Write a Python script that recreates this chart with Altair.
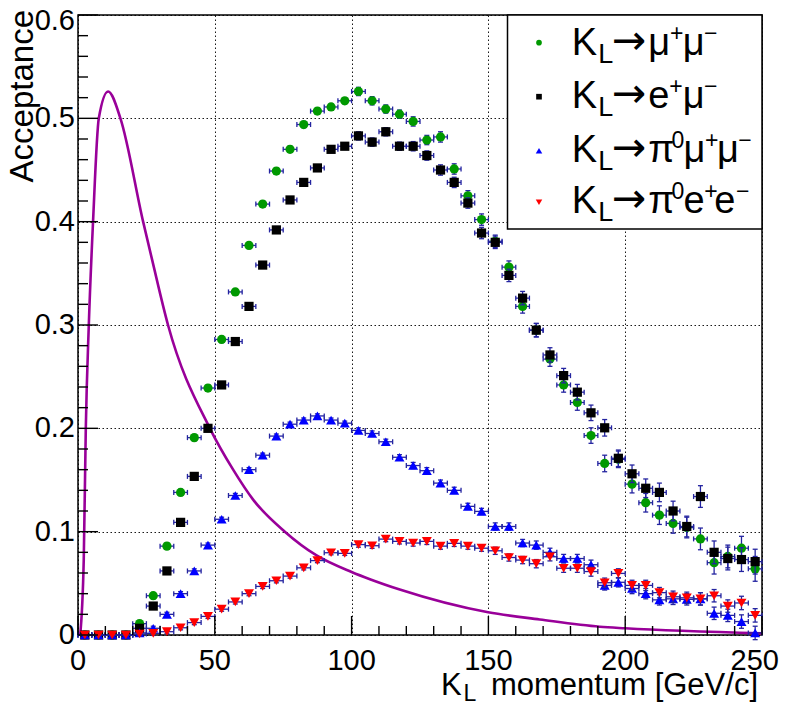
import altair as alt
import pandas as pd

# ---------------- data ----------------
X = [2.5 + 5 * i for i in range(50)]  # bin centres, 5 GeV/c bins
XHALF = 2.5

MUMU = [0, 0, 0, 0, 0.011, 0.038, 0.086, 0.138, 0.191, 0.239,
        0.286, 0.332, 0.377, 0.417, 0.449, 0.470, 0.494, 0.507, 0.511, 0.517,
        0.526, 0.517, 0.509, 0.504, 0.497, 0.479, 0.482, 0.451, 0.425, 0.402,
        0.381, 0.356, 0.318, 0.295, 0.267, 0.242, 0.225, 0.193, 0.166, 0.170,
        0.146, 0.128, 0.116, 0.108, 0.104, 0.093, 0.070, 0.076, 0.084, 0.064]
EMU = [0, 0, 0, 0, 0.0065, 0.028, 0.062, 0.109, 0.1535, 0.200,
       0.242, 0.284, 0.318, 0.358, 0.392, 0.421, 0.438, 0.452, 0.470, 0.473,
       0.483, 0.477, 0.487, 0.473, 0.473, 0.464, 0.450, 0.438, 0.418, 0.389,
       0.380, 0.348, 0.326, 0.295, 0.271, 0.251, 0.235, 0.215, 0.2005, 0.171,
       0.156, 0.142, 0.138, 0.120, 0.105, 0.134, 0.080, 0.074, 0.073, 0.071]
PI0MUMU = [0, 0, 0, 0, 0.002, 0.0065, 0.020, 0.040, 0.062, 0.087,
           0.112, 0.135, 0.160, 0.174, 0.1925, 0.204, 0.208, 0.212, 0.208, 0.205,
           0.198, 0.195, 0.187, 0.172, 0.164, 0.159, 0.147, 0.140, 0.1245, 0.1196,
           0.105, 0.105, 0.089, 0.087, 0.080, 0.074, 0.074, 0.068, 0.048, 0.051,
           0.045, 0.040, 0.034, 0.035, 0.0345, 0.035, 0.021, 0.019, 0.013, 0.002]
PI0EE = [0, 0, 0, 0, 0.001, 0.0016, 0.0032, 0.007, 0.012, 0.018,
         0.025, 0.032, 0.040, 0.047, 0.0525, 0.057, 0.065, 0.072, 0.0796, 0.079,
         0.0875, 0.0864, 0.0928, 0.0906, 0.089, 0.0906, 0.086, 0.0887, 0.086, 0.084,
         0.0815, 0.075, 0.0725, 0.069, 0.0757, 0.0646, 0.0646, 0.0614, 0.0506, 0.0596,
         0.048, 0.048, 0.041, 0.037, 0.036, 0.035, 0.038, 0.028, 0.031, 0.019]

# estimated vertical errors per bin
ERR_LEPT = [0, 0, 0, 0, 0.003, 0.003, 0.003, 0.003, 0.003, 0.003,
            0.003, 0.003, 0.003, 0.003, 0.003, 0.003, 0.003, 0.003, 0.003, 0.003,
            0.004, 0.004, 0.004, 0.004, 0.0045, 0.0045, 0.005, 0.005, 0.005, 0.0055,
            0.006, 0.006, 0.0065, 0.0065, 0.007, 0.007, 0.0075, 0.0075, 0.008, 0.008,
            0.0085, 0.009, 0.009, 0.0095, 0.010, 0.0105, 0.011, 0.011, 0.0115, 0.012]
ERR_PI0 = [0, 0, 0, 0, 0.002, 0.002, 0.002, 0.002, 0.002, 0.002,
           0.002, 0.002, 0.002, 0.002, 0.002, 0.002, 0.002, 0.002, 0.002, 0.002,
           0.0025, 0.0025, 0.0025, 0.0025, 0.003, 0.003, 0.003, 0.003, 0.003, 0.003,
           0.0035, 0.0035, 0.0035, 0.004, 0.004, 0.004, 0.004, 0.0045, 0.0045, 0.0045,
           0.005, 0.005, 0.005, 0.0055, 0.0055, 0.006, 0.006, 0.006, 0.0065, 0.0065]

# K_L momentum spectrum curve
CURVE_P = [0.8, 2.1, 2.85, 3.95, 5.5, 7.6, 11.0, 15.5, 23.8, 27.1, 32.9, 48.2,
           56.7, 64.0, 75.6, 87.2, 100.0, 106.7, 117.6, 149.9, 168.8, 190.7, 200.0, 250.0]
CURVE_V = [0.0, 0.0725, 0.20, 0.30, 0.40, 0.50, 0.526, 0.50, 0.40, 0.363, 0.30, 0.20,
           0.160, 0.131, 0.100, 0.077, 0.061, 0.054, 0.044, 0.022, 0.015, 0.008, 0.0065, 0.0016]

XTICK_MAJOR = [0, 50, 100, 150, 200, 250]
XTICK_LABELS = ["0", "50", "100", "150", "200", "250"]
XTICK_MINOR = [v for v in range(10, 250, 10) if v % 50 != 0]
YTICK_MAJOR = [0, 0.1, 0.2, 0.3, 0.4, 0.5, 0.6]
YTICK_LABELS = ["0", "0.1", "0.2", "0.3", "0.4", "0.5", "0.6"]
YTICK_MINOR = [round(0.02 * i, 2) for i in range(1, 30) if i % 5 != 0]

SERIES = [
    ("K_L->mumu", MUMU, ERR_LEPT, "circle", "#009900", 85),
    ("K_L->emu", EMU, ERR_LEPT, "square", "#000000", 85),
    ("K_L->pi0mumu", PI0MUMU, ERR_PI0, "triangle-up", "#0000ff", 100),
    ("K_L->pi0ee", PI0EE, ERR_PI0, "triangle-down", "#ff0000", 100),
]

# ---------------- layout ----------------
W, H = 684, 620
PADL, PADT, PADR, PADB = 70, 7, 18, 71
OX, OY = 8 + PADL, 8 + PADT          # page position of the plot origin
FONT = "Liberation Sans, Arial, Helvetica, sans-serif"
ERRC = "#2424a0"
LABEL_SIZE = 29

XS = alt.Scale(domain=[0, 250], nice=False, zero=False)
YS = alt.Scale(domain=[0, 0.6], nice=False, zero=False)
XAX = alt.Axis(values=XTICK_MAJOR, title=None, labels=False)
YAX = alt.Axis(values=YTICK_MAJOR, title=None, labels=False)


def xq(f):
    return alt.X(f, type="quantitative", scale=XS, axis=XAX)


def yq(f):
    return alt.Y(f, type="quantitative", scale=YS, axis=YAX)


layers = []

# momentum spectrum curve
curve_df = pd.DataFrame({"p": CURVE_P, "v": CURVE_V})
layers.append(alt.Chart(curve_df).mark_line(color="#990099", strokeWidth=2.6,
                                            interpolate="monotone")
              .encode(x=xq("p"), y=yq("v"), order="p:Q"))

# series: error bars + markers
for name, vals, errs, shape, color, size in SERIES:
    df = pd.DataFrame({"x": X, "y": vals, "e": errs})
    df["xl"] = df["x"] - XHALF
    df["xh"] = df["x"] + XHALF
    df["yl"] = df["y"] - df["e"]
    df["yh"] = df["y"] + df["e"]
    base = alt.Chart(df)
    layers.append(base.mark_rule(color=ERRC, strokeWidth=1.3)
                  .encode(x=xq("xl"), x2="xh", y=yq("y")))
    layers.append(base.mark_tick(orient="vertical", size=5, thickness=1.3, color=ERRC, opacity=1)
                  .encode(x=xq("xl"), y=yq("y")))
    layers.append(base.mark_tick(orient="vertical", size=5, thickness=1.3, color=ERRC, opacity=1)
                  .encode(x=xq("xh"), y=yq("y")))
    ve = base.transform_filter("datum.e > 0")
    layers.append(ve.mark_rule(color=ERRC, strokeWidth=1.3)
                  .encode(x=xq("x"), y=yq("yl"), y2="yh"))
    layers.append(ve.mark_tick(orient="horizontal", size=5, thickness=1.3, color=ERRC, opacity=1)
                  .encode(x=xq("x"), y=yq("yl")))
    layers.append(ve.mark_tick(orient="horizontal", size=5, thickness=1.3, color=ERRC, opacity=1)
                  .encode(x=xq("x"), y=yq("yh")))
    layers.append(base.mark_point(shape=shape, filled=True, size=size, color=color,
                                  opacity=1, strokeWidth=0)
                  .encode(x=xq("x"), y=yq("y")))

# inward ticks
layers.append(alt.Chart(pd.DataFrame({"v": XTICK_MAJOR})).mark_rule(color="black", strokeWidth=1.4)
              .encode(x=xq("v"), y=alt.value(H), y2=alt.value(H - 19)))
layers.append(alt.Chart(pd.DataFrame({"v": XTICK_MINOR})).mark_rule(color="black", strokeWidth=1.4)
              .encode(x=xq("v"), y=alt.value(H), y2=alt.value(H - 9)))
layers.append(alt.Chart(pd.DataFrame({"v": YTICK_MAJOR})).mark_rule(color="black", strokeWidth=1.4)
              .encode(y=yq("v"), x=alt.value(0), x2=alt.value(20)))
layers.append(alt.Chart(pd.DataFrame({"v": YTICK_MINOR})).mark_rule(color="black", strokeWidth=1.4)
              .encode(y=yq("v"), x=alt.value(0), x2=alt.value(10)))

# tick labels
xl_df = pd.DataFrame({"v": XTICK_MAJOR, "t": XTICK_LABELS})
layers.append(alt.Chart(xl_df).transform_filter("datum.v < 250")
              .mark_text(align="center", baseline="top", font=FONT, fontSize=LABEL_SIZE, color="black")
              .encode(x=xq("v"), y=alt.value(H + 12), text="t:N"))
layers.append(alt.Chart(xl_df).transform_filter("datum.v == 250")
              .mark_text(align="right", baseline="top", font=FONT, fontSize=LABEL_SIZE, color="black")
              .encode(x=alt.value(W + PADR - 1), y=alt.value(H + 12), text="t:N"))
yl_df = pd.DataFrame({"v": YTICK_MAJOR, "t": YTICK_LABELS})
layers.append(alt.Chart(yl_df).transform_filter("datum.v < 0.55")
              .mark_text(align="right", baseline="middle", font=FONT, fontSize=LABEL_SIZE, color="black")
              .encode(y=yq("v"), x=alt.value(-3), text="t:N"))
layers.append(alt.Chart(yl_df).transform_filter("datum.v > 0.55")
              .mark_text(align="right", baseline="middle", font=FONT, fontSize=LABEL_SIZE, color="black",
                         dy=6)
              .encode(y=yq("v"), x=alt.value(-3), text="t:N"))

# legend box
one = pd.DataFrame({"a": [0]})
layers.append(alt.Chart(one).mark_rect(fill="white", stroke="black", strokeWidth=1.5)
              .encode(x=alt.value(507.5 - OX), x2=alt.value(W), y=alt.value(0),
                      y2=alt.value(229 - OY)))

# legend markers
LEG_MARK_X = 539
LEG_MARK_Y = [42.7, 96.7, 150.7, 202.3]
LEG_SIZES = [32, 32, 42, 42]
for (name, vals, errs, shape, color, size), my, ms in zip(SERIES, LEG_MARK_Y, LEG_SIZES):
    layers.append(alt.Chart(one).mark_point(shape=shape, filled=True, size=ms, color=color,
                                            opacity=1, strokeWidth=0)
                  .encode(x=alt.value(LEG_MARK_X - OX), y=alt.value(my - OY)))

# legend texts  (K_L -> ...) with sub/superscripts
MAIN, SUB, SUP = 38, 27, 23
ROWS = [
    (55.0, [("μ", 648.3, 0), ("+", 670.0, 1), ("μ", 682.7, 0), ("−", 704.0, 1)]),
    (108.3, [("e", 648.3, 0), ("+", 669.3, 1), ("μ", 682.7, 0), ("−", 704.0, 1)]),
    (161.7, [("π", 648.3, 0), ("0", 671.5, 1), ("μ", 683.5, 0), ("+", 705.0, 1),
             ("μ", 717.0, 0), ("−", 738.3, 1)]),
    (213.3, [("π", 648.3, 0), ("0", 671.5, 1), ("e", 683.5, 0), ("+", 704.3, 1),
             ("e", 714.3, 0), ("−", 736.0, 1)]),
]
pieces = []
arrows = []
for base_y, rest in ROWS:
    pieces.append(("K", 571.7, base_y, MAIN))
    pieces.append(("L", 598.3, base_y + 8, SUB))
    arrows.append(("→", 612.0, base_y - 1, 41))
    for t, px, sup in rest:
        if sup:
            pieces.append((t, px, base_y - 14, SUP))
        else:
            pieces.append((t, px, base_y, MAIN))

# x-axis title pieces
pieces.append(("K", 441.0, 695.0, 31))
pieces.append(("L", 463.5, 701.0, 23))


def text_layer(rows, align="left", angle=0, font=FONT):
    df = pd.DataFrame(rows, columns=["t", "px", "py", "s"])
    df["px"] = df["px"] - OX
    df["py"] = df["py"] - OY
    return (alt.Chart(df)
            .mark_text(align=align, baseline="alphabetic", font=font, color="black", angle=angle)
            .encode(x=alt.X("px:Q", scale=None), y=alt.Y("py:Q", scale=None),
                    text="t:N", size=alt.Size("s:Q", scale=None)))


layers.append(text_layer(pieces, "left"))
layers.append(text_layer(arrows, "left", font="DejaVu Sans"))
layers.append(text_layer([("momentum [GeV/c]", 758.0, 695.0, 31)], "right"))
layers.append(text_layer([("Acceptance", 33.0, 10.0, 33)], "right", angle=270))

chart = (alt.layer(*layers)
         .properties(width=W, height=H,
                     autosize=alt.AutoSizeParams(type="none"),
                     padding={"left": PADL, "top": PADT, "right": PADR, "bottom": PADB},
                     background="white")
         .configure_axis(grid=True, gridColor="black", gridDash=[1.5, 2.5], gridWidth=1,
                         gridOpacity=0.9, domain=False, ticks=False)
         .configure_view(stroke="black", strokeWidth=1.5))

chart.save("out.html", embed_options={"renderer": "svg", "actions": False})
